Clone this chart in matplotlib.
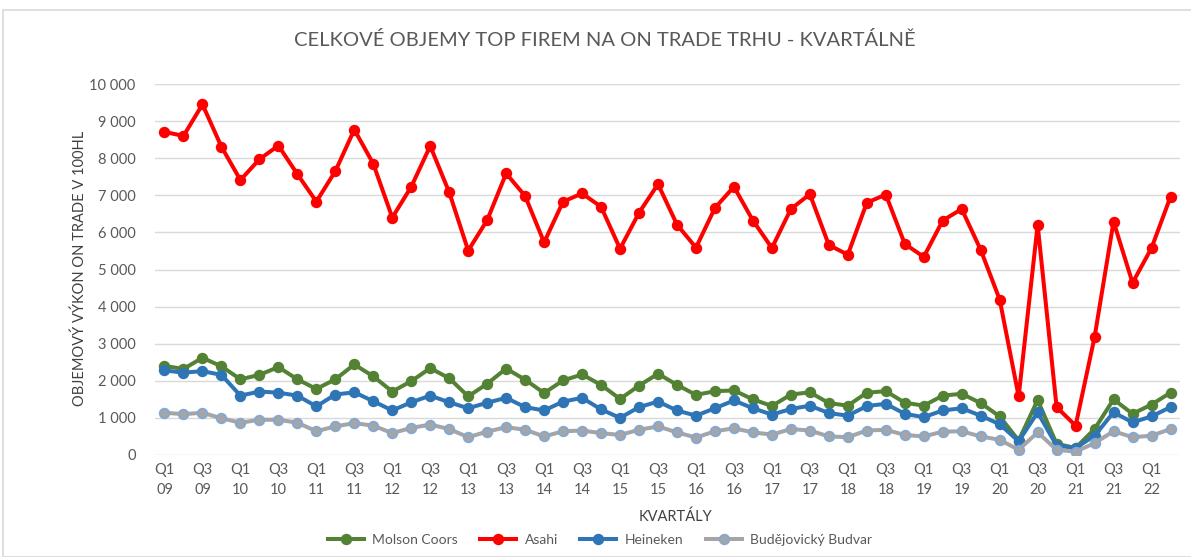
import matplotlib
matplotlib.use("Agg")
import matplotlib.pyplot as plt
from matplotlib.patches import Rectangle
from matplotlib.ticker import FuncFormatter, MultipleLocator

plt.rcParams['font.family'] = ['Lato', 'DejaVu Sans']

# quarters Q1 2009 .. Q2 2022
years = list(range(9, 23))
quarters = [f"Q{q}\n{y:02d}" for y in years for q in (1, 2, 3, 4)][:54]

molson = [2400, 2320, 2620, 2390, 2040, 2160, 2370, 2040, 1780, 2040,
          2440, 2120, 1710, 1990, 2340, 2070, 1580, 1920, 2330, 2030,
          1670, 2010, 2170, 1890, 1510, 1870, 2190, 1890, 1620, 1720,
          1740, 1500, 1320, 1630, 1690, 1400, 1330, 1680, 1720, 1410,
          1330, 1600, 1650, 1400, 1040, 390, 1480, 300, 190, 700,
          1500, 1110, 1360, 1680]
asahi = [8710, 8600, 9450, 8310, 7410, 7970, 8340, 7570, 6830, 7650,
         8770, 7850, 6400, 7230, 8330, 7080, 5510, 6330, 7590, 6980,
         5730, 6830, 7050, 6690, 5560, 6530, 7300, 6210, 5590, 6660,
         7230, 6320, 5580, 6630, 7030, 5660, 5400, 6800, 7020, 5690,
         5340, 6320, 6630, 5530, 4190, 1580, 6200, 1290, 790, 3180,
         6290, 4640, 5580, 6960]
heineken = [2280, 2220, 2260, 2160, 1600, 1710, 1680, 1600, 1310, 1630,
            1690, 1450, 1200, 1420, 1600, 1420, 1260, 1410, 1540, 1290,
            1200, 1440, 1540, 1230, 1000, 1290, 1440, 1200, 1060, 1260,
            1470, 1260, 1090, 1240, 1330, 1130, 1060, 1320, 1380, 1110,
            1020, 1200, 1260, 1060, 830, 370, 1150, 250, 190, 520,
            1150, 880, 1040, 1290]
budvar = [1140, 1100, 1140, 990, 870, 950, 950, 870, 640, 770,
          860, 790, 590, 730, 820, 700, 480, 630, 750, 680,
          500, 640, 660, 590, 540, 680, 770, 610, 470, 640,
          720, 610, 550, 700, 660, 500, 480, 660, 680, 540,
          500, 630, 640, 500, 410, 140, 610, 140, 90, 320,
          640, 480, 520, 700]

series = [
    ("Molson Coors", molson, "#548235", "#548235"),
    ("Asahi", asahi, "#FF0000", "#FF0000"),
    ("Heineken", heineken, "#2E75B6", "#2E75B6"),
    ("Budějovický Budvar", budvar, "#A5A5A5", "#7FA9D9"),
]

txt = "#595959"
fig = plt.figure(figsize=(11.91, 5.57), dpi=100)
fig.patches.append(Rectangle((3 / 1191, 0), 1.0, 1 - 10 / 557, transform=fig.transFigure,
                             fill=False, edgecolor="#D9D9D9", linewidth=1.2))
ax = fig.add_axes([155 / 1191, 102 / 557, 1025 / 1191, 371 / 557])

x = list(range(len(quarters)))
for name, vals, col, edge in series:
    ax.plot(x, vals, color=col, lw=2.9, marker="o", ms=7,
            markerfacecolor=col, markeredgecolor=edge, markeredgewidth=1.2,
            label=name, solid_joinstyle="round")

ax.set_xlim(-0.5, len(quarters) - 0.5)
ax.set_ylim(0, 10000)
ax.yaxis.set_major_locator(MultipleLocator(1000))
ax.yaxis.set_major_formatter(FuncFormatter(lambda v, p: f"{int(v):,}".replace(",", " ")))
ax.set_xticks(x[::2])
ax.set_xticklabels(quarters[::2])
ax.grid(axis="y", color="#D9D9D9", lw=1)
ax.set_axisbelow(True)
for s in ax.spines.values():
    s.set_visible(False)
ax.tick_params(length=0, labelsize=10.5, colors=txt)
ax.tick_params(axis="y", pad=14)
ax.tick_params(axis="x", pad=6)
for lab in ax.get_xticklabels():
    lab.set_linespacing(1.5)

fig.text(605 / 1191, 1 - 40 / 557, "CELKOVÉ OBJEMY TOP FIREM NA ON TRADE TRHU - KVARTÁLNĚ",
         ha="center", va="center", fontsize=14.5, color=txt)
fig.text(80 / 1191, 1 - 268 / 557, "OBJEMOVÝ VÝKON ON TRADE V 100HL", rotation=90,
         ha="center", va="center", fontsize=10.5, color="#404040")
fig.text(675 / 1191, 1 - 517 / 557, "KVARTÁLY", ha="center", va="center",
         fontsize=10.5, color="#404040")

fig.legend(loc="center", bbox_to_anchor=(600 / 1191, 1 - 540 / 557), ncol=4,
           frameon=False, fontsize=10, labelcolor=txt, handlelength=2.6,
           columnspacing=1.6, handletextpad=0.6)

fig.savefig("out.png", dpi=100)
